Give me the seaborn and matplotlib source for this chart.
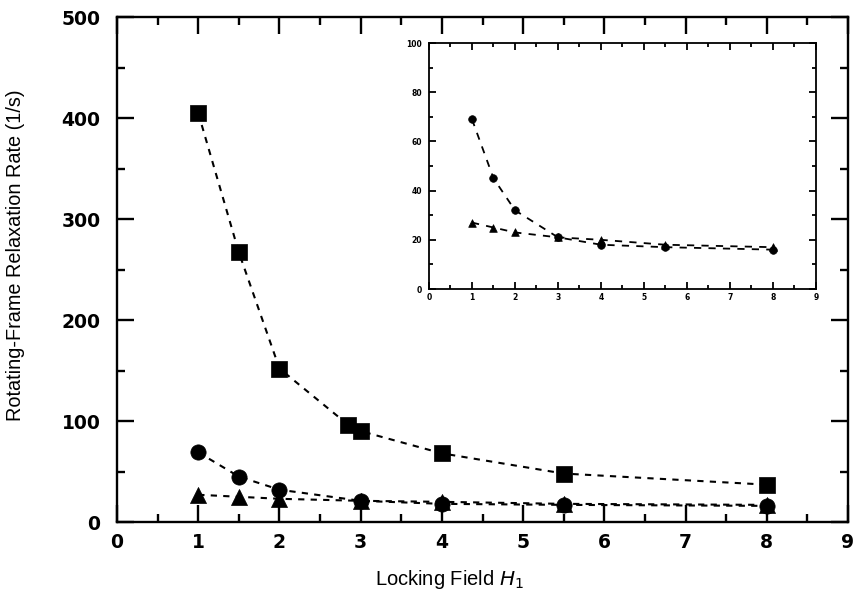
import numpy as np
import pandas as pd
import matplotlib
matplotlib.use("Agg")
import matplotlib.pyplot as plt
from matplotlib.ticker import MultipleLocator
import seaborn as sns

# ---- data ----
sq_x = [1, 1.5, 2, 2.85, 3, 4, 5.5, 8]
sq_y = [405, 267, 152, 96, 90, 68, 48, 37]

circ_x = [1, 1.5, 2, 3, 4, 5.5, 8]
circ_y = [69, 45, 32, 21, 18, 17, 16]

tri_x = [1, 1.5, 2, 3, 4, 5.5, 8]
tri_y = [27, 25, 23, 21, 20, 18, 17]

main_xticks = list(range(0, 10))
main_yticks = [0, 100, 200, 300, 400, 500]
inset_yticks = [0, 20, 40, 60, 80, 100]

sns.set_theme(style="white")
plt.rcParams['font.family'] = ['Liberation Sans', 'DejaVu Sans']
plt.rcParams['text.color'] = 'black'
plt.rcParams['axes.labelcolor'] = 'black'
plt.rcParams['xtick.color'] = 'black'
plt.rcParams['ytick.color'] = 'black'

fig = plt.figure(figsize=(8.63, 5.99), dpi=100)
ax = fig.add_axes([0.1356, 0.1285, 0.847, 0.843])
axi = fig.add_axes([0.4971, 0.5175, 0.4484, 0.4107])

df_sq = pd.DataFrame({"x": sq_x, "y": sq_y})
df_c = pd.DataFrame({"x": circ_x, "y": circ_y})
df_t = pd.DataFrame({"x": tri_x, "y": tri_y})


def draw(a, series, lw, ms, dash):
    for df, mk, s in series:
        sns.lineplot(data=df, x="x", y="y", ax=a, color="black", lw=lw,
                     linestyle=(0, dash), sort=True, zorder=2)
        sns.scatterplot(data=df, x="x", y="y", ax=a, color="black",
                        marker=mk, s=(ms * s) ** 2, edgecolor="black",
                        linewidth=0.5, zorder=3)


draw(ax, [(df_sq, "s", 1.0), (df_t, "^", 1.05), (df_c, "o", 1.0)], 1.5, 11, (3, 3))
draw(axi, [(df_t, "^", 1.0), (df_c, "o", 1.0)], 1.3, 5.5, (4, 4))


def style(a, xt, yt, xminor, yminor, fs, maj, mnr, lw, xpad, ypad):
    a.set_xlim(0, 9)
    a.set_xticks(xt)
    a.set_yticks(yt)
    a.xaxis.set_minor_locator(MultipleLocator(xminor))
    a.yaxis.set_minor_locator(MultipleLocator(yminor))
    a.tick_params(which="major", direction="in", length=maj, width=lw,
                  top=True, right=True, bottom=True, left=True,
                  labelsize=fs, color="black", labelcolor="black")
    a.tick_params(axis="x", which="major", pad=xpad)
    a.tick_params(axis="y", which="major", pad=ypad)
    a.tick_params(which="minor", direction="in", length=mnr, width=lw,
                  top=True, right=True, bottom=True, left=True, color="black")
    for lab in a.get_xticklabels() + a.get_yticklabels():
        lab.set_fontweight("bold")
        lab.set_fontfamily(["DejaVu Sans"])
    for sp in a.spines.values():
        sp.set_visible(True)
        sp.set_color("black")
        sp.set_linewidth(lw)
    a.set_xlabel("")
    a.set_ylabel("")


style(ax, main_xticks, main_yticks, 0.5, 50, 13.5, 12, 6, 1.7, 8, 12)
ax.set_ylim(0, 500)
style(axi, main_xticks, inset_yticks, 0.5, 10, 5.5, 5, 3, 1.3, 3, 5)
axi.set_ylim(0, 100)

ax.set_ylabel("Rotating-Frame Relaxation Rate (1/s)", fontsize=14.3)
ax.yaxis.set_label_coords(-0.126, 0.529)
ax.set_xlabel(r"Locking Field $\mathit{H}_{\mathit{1}}$", fontsize=14.5)
ax.xaxis.set_label_coords(0.455, -0.092)

fig.savefig("out.png", dpi=100, facecolor="white")
